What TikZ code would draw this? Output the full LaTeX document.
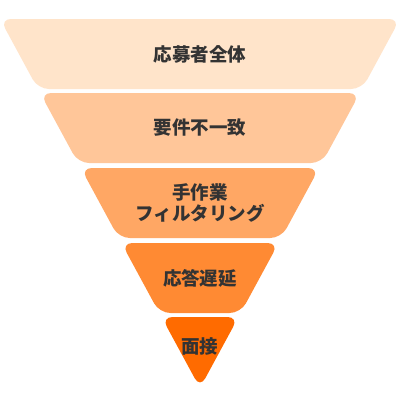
\documentclass[tikz,border=0pt]{standalone}
\usepackage{fontspec}
\newfontfamily\jp{Noto Sans CJK JP}
\definecolor{cA}{HTML}{FFE4CA}
\definecolor{cB}{HTML}{FFC699}
\definecolor{cC}{HTML}{FFA764}
\definecolor{cD}{HTML}{FF8A33}
\definecolor{cE}{HTML}{FF6B00}
\definecolor{txt}{HTML}{333333}
\tikzset{
  layer/.style={rounded corners=11pt},
  lbl/.style={text=txt, font=\jp\bfseries\fontsize{18.5}{21}\selectfont, align=center, inner sep=0pt}
}
\begin{document}
\begin{tikzpicture}[x=1pt,y=-1pt]
\useasboundingbox (0,0) rectangle (400,400);
\fill[white] (0,0) rectangle (400,400);
\fill[cA,layer] (0,19) -- (400,19) -- (362.1,89) -- (37.9,89) -- cycle;
\fill[cB,layer] (40.1,93) -- (359.9,93) -- (321.95,163) -- (78.05,163) -- cycle;
\fill[cC,layer] (80.8,168) -- (319.2,168) -- (281.3,238) -- (118.7,238) -- cycle;
\fill[cD,layer] (121.4,243) -- (278.6,243) -- (240.65,313) -- (159.35,313) -- cycle;
\fill[cE,layer] (161.5,317) -- (238.5,317) -- (200,388) -- cycle;
\node[lbl] (l1) at (200,54) {応募者全体};
\node[lbl] (l2) at (200,128) {要件不一致};
\node[lbl] (l3) at (200,203) {手作業\\フィルタリング};
\node[lbl] (l4) at (200,278) {応答遅延};
\node[lbl] (l5) at (200,346) {面接};
\end{tikzpicture}
\end{document}
